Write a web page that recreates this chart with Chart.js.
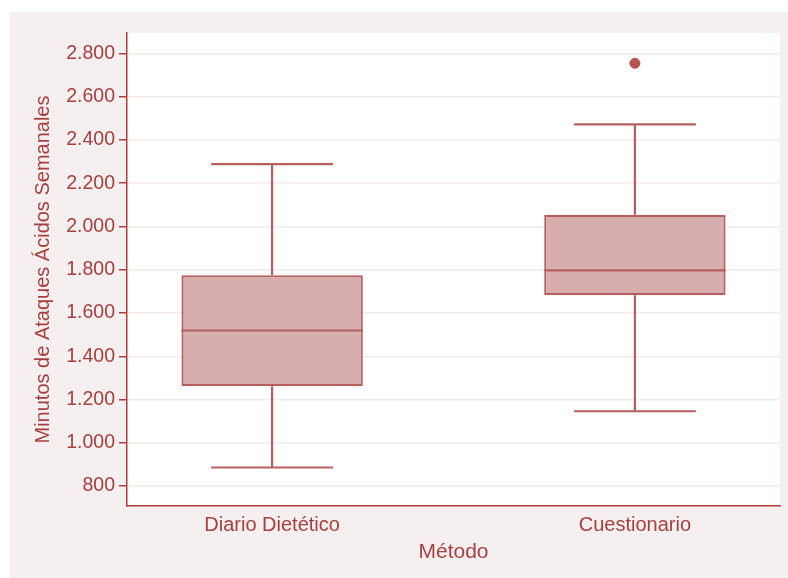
<!DOCTYPE html>
<html>
<head>
<meta charset="utf-8">
<script src="https://cdn.jsdelivr.net/npm/chart.js@4.4.1/dist/chart.umd.min.js"></script>
<style>
  body { margin: 0; background: #fff; }
  #wrap { position: absolute; left: 10px; top: 12px; width: 778px; height: 566px; background: #f6efef; }
</style>
</head>
<body>
<div id="wrap"><canvas id="grafico"></canvas></div>
<script>
// valores
var categorias = ['Diario Dietético', 'Cuestionario'];
var posiciones = [1, 2];
var bigoteInf = [886, 1146];
var q1 = [1262, 1682];
var mediana = [1519, 1797];
var q3 = [1774, 2054];
var bigoteSup = [2288, 2472];
var atipicos = [[], [2754]];
var yTicks = [800, 1000, 1200, 1400, 1600, 1800, 2000, 2200, 2400, 2600, 2800];

var texto = '#a5403f';
var linea = '#b5605f';
var relleno = '#d5aead';
var mediaCaja = 0.25, mediaTope = 0.168;

function fmt(v){
	return String(v).replace(/\B(?=(\d{3})+(?!\d))/g, '.');
}

// segmentos: bigotes, topes y medianas, separados con null
var bigotes = [], topes = [], medianas = [], cajas = [], puntos = [];
for (var i = 0; i < categorias.length; i++) {
	var x = posiciones[i];
	bigotes.push({x: x, y: q3[i]}, {x: x, y: bigoteSup[i]}, {x: x + 0.01, y: null});
	bigotes.push({x: x, y: q1[i]}, {x: x, y: bigoteInf[i]}, {x: x + 0.01, y: null});
	topes.push({x: x - mediaTope, y: bigoteSup[i]}, {x: x + mediaTope, y: bigoteSup[i]}, {x: x, y: null});
	topes.push({x: x - mediaTope, y: bigoteInf[i]}, {x: x + mediaTope, y: bigoteInf[i]}, {x: x, y: null});
	medianas.push({x: x - mediaCaja, y: mediana[i]}, {x: x + mediaCaja, y: mediana[i]}, {x: x, y: null});
	cajas.push({x: x, y: [q1[i], q3[i]]});
	for (var j = 0; j < atipicos[i].length; j++) puntos.push({x: x, y: atipicos[i][j]});
}

var fondoBlanco = {
	id: 'fondoBlanco',
	beforeDraw: function(chart){
		var a = chart.chartArea, c = chart.ctx;
		c.save();
		c.fillStyle = '#ffffff';
		c.fillRect(a.left, a.top, a.right - a.left, a.bottom - a.top);
		c.restore();
	}
};

var lineaOpts = {type: 'line', borderColor: linea, borderWidth: 2.2, pointRadius: 0, spanGaps: false, tension: 0, fill: false};

new Chart(document.getElementById('grafico'), {
	type: 'bar',
	data: {
		datasets: [
			Object.assign({data: medianas, order: 0}, lineaOpts),
			Object.assign({data: bigotes, order: 2}, lineaOpts),
			Object.assign({data: topes, order: 2}, lineaOpts),
			{type: 'bar', data: cajas, order: 1, backgroundColor: relleno, borderColor: linea, borderWidth: 2.2,
			 borderSkipped: false, barPercentage: 0.5, categoryPercentage: 1},
			{type: 'scatter', data: puntos, order: 0, backgroundColor: '#b35555', borderColor: '#b35555', pointRadius: 5}
		]
	},
	options: {
		responsive: true,
		maintainAspectRatio: false,
		animation: false,
		layout: {padding: {top: 21, right: 8, left: 0, bottom: 0}},
		plugins: {legend: {display: false}, tooltip: {enabled: false}},
		scales: {
			x: {
				type: 'linear', min: 0.6, max: 2.4, offset: false,
				afterBuildTicks: function(s){ s.ticks = posiciones.map(function(p){ return {value: p}; }); },
				afterFit: function(s){ s.height = 72; },
				grid: {display: false, drawTicks: false},
				border: {display: true, color: '#b03c3c', width: 1.5},
				ticks: {
					color: texto, padding: 7, maxRotation: 0,
					font: {family: "'Liberation Sans', Arial, sans-serif", size: 20},
					callback: function(v){ return categorias[posiciones.indexOf(v)]; }
				},
				title: {display: true, text: 'Método', color: texto, padding: {top: 0, bottom: 13},
					font: {family: "'Liberation Sans', Arial, sans-serif", size: 21}}
			},
			y: {
				min: 708, max: 2894,
				afterBuildTicks: function(s){ s.ticks = yTicks.map(function(v){ return {value: v}; }); },
				afterFit: function(s){ s.width = 117; },
				grid: {color: '#f4eaea', lineWidth: 1.5, tickColor: '#b03c3c', tickLength: 8, drawTicks: true},
				border: {display: true, color: '#b03c3c', width: 1.5},
				ticks: {
					color: texto, padding: 4,
					font: {family: "'Liberation Sans', Arial, sans-serif", size: 19.5},
					callback: function(v){ return fmt(v); }
				},
				title: {display: true, text: 'Minutos de Ataques Ácidos Semanales', color: texto, padding: {top: 21, bottom: 0},
					font: {family: "'Liberation Sans', Arial, sans-serif", size: 20}}
			}
		}
	},
	plugins: [fondoBlanco]
});
</script>
</body>
</html>
